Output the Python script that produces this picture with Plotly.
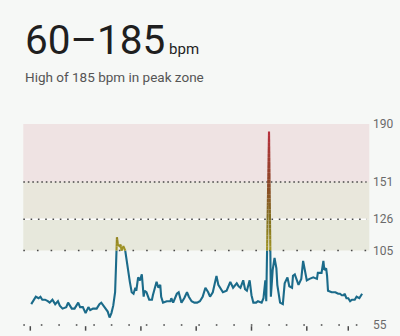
import plotly.graph_objects as go

# ---- data ----
minutes = [1, 3, 6, 9, 11, 13, 16, 19, 21, 24, 27, 30, 32, 35, 39, 41, 43, 45, 48, 52,
           54, 57, 60, 63, 65, 68, 72, 75, 77, 81, 84, 86, 88, 90, 92, 93, 94, 95, 97, 98,
           99, 101, 103, 104, 106, 108, 110, 112, 114, 115, 117, 119, 121, 123, 124, 126, 129, 132, 133, 137,
           139, 141, 142, 144, 148, 152, 153, 155, 159, 161, 164, 167, 170, 172, 175, 178, 181, 184, 187, 190,
           193, 195, 198, 202, 204, 206, 209, 213, 217, 220, 224, 226, 228, 231, 233, 235, 238, 240, 242, 245,
           247, 251, 253, 255, 256, 259, 261, 263, 265, 267, 268, 271, 274, 276, 279, 281, 284, 285, 287, 291,
           294, 296, 298, 300, 303, 307, 311, 312, 316, 318, 319, 321, 322, 323, 327, 331, 334, 336, 338, 340,
           341, 343, 345, 347, 349, 350, 352, 354, 356, 357, 360]
bpm = [69, 71, 74, 73, 74, 72, 72, 71, 70, 72, 69, 71, 68, 66, 67, 70, 68, 66, 66, 70,
       67, 67, 63, 67, 65, 66, 66, 69, 70, 67, 64, 60, 63, 68, 77, 95, 114, 109, 108, 109,
       105, 108, 105, 100, 94, 84, 77, 76, 80, 78, 87, 85, 89, 74, 78, 77, 72, 72, 75, 84,
       80, 82, 74, 70, 71, 71, 73, 70, 76, 77, 70, 73, 77, 74, 71, 70, 70, 71, 74, 80,
       77, 74, 77, 88, 82, 80, 77, 78, 84, 80, 83, 81, 80, 85, 79, 78, 85, 75, 70, 70,
       71, 70, 73, 85, 71, 185, 74, 92, 100, 93, 82, 70, 69, 83, 87, 81, 80, 88, 89, 82,
       86, 98, 92, 85, 86, 87, 86, 90, 90, 98, 92, 93, 88, 78, 77, 77, 76, 76, 75, 75,
       76, 73, 73, 71, 72, 72, 72, 74, 73, 73, 76]

zone_bounds = [105, 126, 151, 190]
axis_ticks = [55, 105, 126, 151, 190]
hour_ticks = [0, 60, 120, 180, 240, 300, 345]

title_text = "60–185"
unit_text = "bpm"
subtitle_text = "High of 185 bpm in peak zone"

# ---- styling ----
BG = "#f6f8f6"
TEAL = "#1b6b8a"
STEP = 2.5
LO = zone_bounds[0]
color_stops = [(105, (160, 148, 36)), (126, (130, 112, 30)), (151, (140, 70, 40)), (185, (184, 48, 62))]


def color_at(v):
    if v <= color_stops[0][0]:
        c = color_stops[0][1]
    elif v >= color_stops[-1][0]:
        c = color_stops[-1][1]
    else:
        for (a, ca), (b, cb) in zip(color_stops, color_stops[1:]):
            if a <= v <= b:
                t = (v - a) / (b - a)
                c = tuple(ca[i] + (cb[i] - ca[i]) * t for i in range(3))
                break
    return "rgb(%d,%d,%d)" % tuple(int(round(x)) for x in c)


cuts = [LO + STEP * k for k in range(int((200 - LO) / STEP) + 1)]
bands = {}


def add_piece(key, p0, p1):
    xs, ys = bands.setdefault(key, ([], []))
    if xs and xs[-1] is not None and abs(xs[-1] - p0[0]) < 1e-9 and abs(ys[-1] - p0[1]) < 1e-9:
        xs.append(p1[0]); ys.append(p1[1])
    else:
        if xs:
            xs.append(None); ys.append(None)
        xs.extend([p0[0], p1[0]]); ys.extend([p0[1], p1[1]])


for i in range(len(minutes) - 1):
    x0, y0, x1, y1 = minutes[i], bpm[i], minutes[i + 1], bpm[i + 1]
    ts = [0.0, 1.0]
    lo, hi = min(y0, y1), max(y0, y1)
    for c in cuts:
        if lo < c < hi:
            ts.append((c - y0) / (y1 - y0))
    ts.sort()
    for ta, tb in zip(ts, ts[1:]):
        pa = (x0 + (x1 - x0) * ta, y0 + (y1 - y0) * ta)
        pb = (x0 + (x1 - x0) * tb, y0 + (y1 - y0) * tb)
        mid = (pa[1] + pb[1]) / 2
        key = -1 if mid < LO else int((mid - LO) // STEP)
        add_piece(key, pa, pb)

fig = go.Figure()
for key in sorted(bands):
    xs, ys = bands[key]
    col = TEAL if key < 0 else color_at(LO + STEP * (key + 0.5))
    fig.add_trace(go.Scatter(x=xs, y=ys, mode="lines", line=dict(color=col, width=2.1),
                             hoverinfo="skip", showlegend=False, connectgaps=False))

X0, X1 = -7.6, 367.8
XD = 364.9
shapes = [
    dict(type="rect", x0=X0, x1=X1, y0=zone_bounds[2], y1=zone_bounds[3], fillcolor="#efe3e3",
         line=dict(width=0), layer="below"),
    dict(type="rect", x0=X0, x1=X1, y0=zone_bounds[1], y1=zone_bounds[2], fillcolor="#e9e7dc",
         line=dict(width=0), layer="below"),
    dict(type="rect", x0=X0, x1=X1, y0=zone_bounds[0], y1=zone_bounds[1], fillcolor="#e7e8dc",
         line=dict(width=0), layer="below"),
    dict(type="line", x0=X0, x1=XD, y0=126, y1=126, line=dict(color="#ffffff", width=1.5), layer="below"),
    dict(type="line", x0=X0, x1=XD, y0=151, y1=151, line=dict(color="#4a4a4a", width=1.6, dash="1.6px,2.9px"), layer="below"),
    dict(type="line", x0=X0, x1=XD, y0=126, y1=126, line=dict(color="#4a4a4a", width=1.6, dash="1.6px,5.7px"), layer="below"),
    dict(type="line", x0=X0, x1=XD + 1, y0=105, y1=105, line=dict(color="#4a4a4a", width=1.6, dash="1.6px,12.05px"), layer="below"),
    dict(type="line", x0=X0, x1=XD, y0=55, y1=55, line=dict(color="#4a4a4a", width=1.6, dash="1.6px,15.9px"), layer="below"),
]
for h in hour_ticks:
    shapes.append(dict(type="line", x0=h, x1=h, y0=54.2, y1=51.2, line=dict(color="#4a4a4a", width=1.5), layer="below"))

fig.update_layout(
    width=400, height=336,
    margin=dict(l=20, r=28, t=117, b=4),
    paper_bgcolor=BG, plot_bgcolor=BG,
    shapes=shapes,
    xaxis=dict(range=[-11.18, 370.74], visible=False, fixedrange=True),
    yaxis=dict(range=[50.30, 194.70], side="right", tickvals=axis_ticks,
               ticktext=[str(v) for v in axis_ticks], showgrid=False, zeroline=False,
               showline=False, ticks="", tickfont=dict(family="Roboto", size=12, color="#6a6a6a")),
    font=dict(family="Roboto"),
    annotations=[
        dict(xref="paper", yref="paper", x=0.0085, y=1.358, xanchor="left", yanchor="middle",
             showarrow=False,
             text=title_text + "<span style='font-size:15px'> " + unit_text + "</span>",
             font=dict(family="Roboto", size=40.5, color="#1f1f1f")),
        dict(xref="paper", yref="paper", x=0.0085, y=1.184, xanchor="left", yanchor="middle",
             showarrow=False, text=subtitle_text,
             font=dict(family="Roboto", size=13.5, color="#555555")),
    ],
)

fig.write_html("out.html")
